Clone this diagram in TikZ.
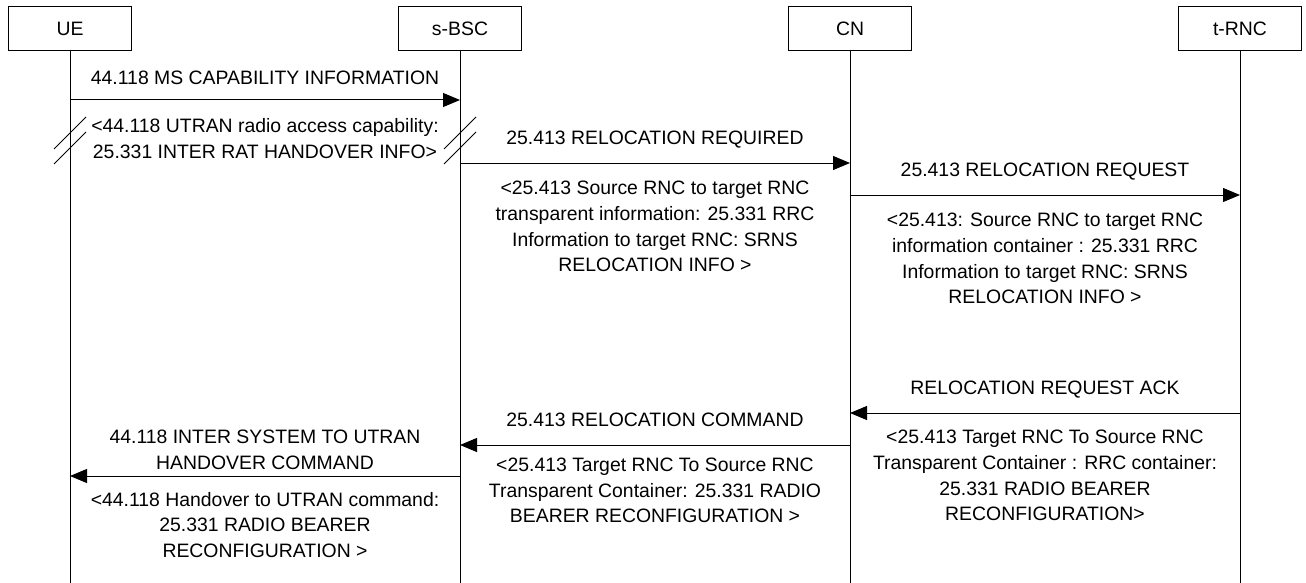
\documentclass[tikz,border=0pt]{standalone}
\usepackage{fontspec}
\setmainfont{Liberation Sans}
\usetikzlibrary{arrows.meta}
\tikzset{
  entity/.style={draw, line width=0.5pt, minimum width=61.5pt, minimum height=22pt, inner sep=0pt},
  life/.style={draw, line width=0.5pt},
  msg/.style={draw, line width=0.5pt, -{Triangle[length=8.5pt,width=7pt]}},
  lbl/.style={align=center, inner sep=0pt, font=\fontsize{9.7}{12.85}\selectfont},
  brk/.style={draw, line width=0.5pt}
}
\begin{document}
\begin{tikzpicture}[x=0.5pt,y=-0.5pt]
\useasboundingbox (0,0) rectangle (1306,583);
\node[entity,lbl] (ue) at (70,29) {UE};
\node[entity,lbl] (bsc) at (460,29) {s-BSC};
\node[entity,lbl] (cn) at (850,29) {CN};
\node[entity,lbl] (rnc) at (1240,29) {t-RNC};
\coordinate (ueend) at (70,583);
\coordinate (bscend) at (460,583);
\coordinate (cnend) at (850,583);
\coordinate (rncend) at (1240,583);
\path[life] (ue) -- (ueend);
\path[life] (bsc) -- (bscend);
\path[life] (cn) -- (cnend);
\path[life] (rnc) -- (rncend);

% messages
\coordinate (m1a) at (70,100);   \coordinate (m1b) at (460,100);
\coordinate (m2a) at (460,163);  \coordinate (m2b) at (850,163);
\coordinate (m3a) at (850,195);  \coordinate (m3b) at (1240,195);
\coordinate (m4a) at (1240,413); \coordinate (m4b) at (850,413);
\coordinate (m5a) at (850,445);  \coordinate (m5b) at (460,445);
\coordinate (m6a) at (460,476);  \coordinate (m6b) at (70,476);
\path[msg] (m1a) -- (m1b);
\path[msg] (m2a) -- (m2b);
\path[msg] (m3a) -- (m3b);
\path[msg] (m4a) -- (m4b);
\path[msg] (m5a) -- (m5b);
\path[msg] (m6a) -- (m6b);

\node[lbl] (t1) at (265,78) {44.118 MS CAPABILITY INFORMATION};
\node[lbl] (s1) at (265,138.5) {<44.118 UTRAN radio access capability:\\25.331 INTER RAT HANDOVER INFO>};
\node[lbl] (t2) at (655,140) {25.413 RELOCATION REQUIRED};
\node[lbl] (s2) at (655,226.5) {<25.413 Source RNC to target RNC\\transparent information: 25.331 RRC\\Information to target RNC: SRNS\\RELOCATION INFO >};
\node[lbl] (t3) at (1045,172) {25.413 RELOCATION REQUEST};
\node[lbl] (s3) at (1045,258.5) {<25.413: Source RNC to target RNC\\information container : 25.331 RRC\\Information to target RNC: SRNS\\RELOCATION INFO >};
\node[lbl] (t4) at (1045,390) {RELOCATION REQUEST ACK};
\node[lbl] (s4) at (1045,475.5) {<25.413 Target RNC To Source RNC\\Transparent Container : RRC container:\\25.331 RADIO BEARER\\RECONFIGURATION>};
\node[lbl] (t5) at (655,420) {25.413 RELOCATION COMMAND};
\node[lbl] (s5) at (655,490.5) {<25.413 Target RNC To Source RNC\\Transparent Container: 25.331 RADIO\\BEARER RECONFIGURATION >};
\node[lbl] (t6) at (265,449.5) {44.118 INTER SYSTEM TO UTRAN\\HANDOVER COMMAND};
\node[lbl] (s6) at (265,525) {<44.118 Handover to UTRAN command:\\25.331 RADIO BEARER\\RECONFIGURATION >};

% breaks on the lifelines
\coordinate (k1a) at (54,149); \coordinate (k1b) at (86,117);
\coordinate (k2a) at (54,164); \coordinate (k2b) at (86,132);
\coordinate (k3a) at (444,149); \coordinate (k3b) at (476,117);
\coordinate (k4a) at (444,164); \coordinate (k4b) at (476,132);
\path[brk] (k1a) -- (k1b);
\path[brk] (k2a) -- (k2b);
\path[brk] (k3a) -- (k3b);
\path[brk] (k4a) -- (k4b);
\end{tikzpicture}
\end{document}
